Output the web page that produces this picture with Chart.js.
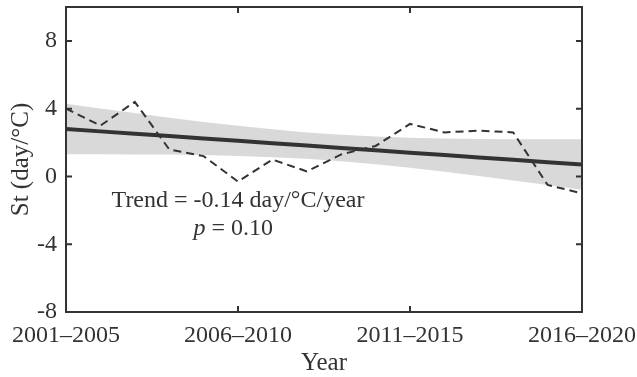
<!DOCTYPE html>
<html>
<head>
<meta charset="utf-8">
<script src="https://cdn.jsdelivr.net/npm/chart.js@4.4.1/dist/chart.umd.min.js"></script>
<style>
  html, body { margin: 0; padding: 0; background: #fff; }
  canvas { display: block; }
</style>
</head>
<body>
<canvas id="chart" width="637" height="377"></canvas>
<script>
// Five-year moving windows
const periods = ['2001–2005', '2002–2006', '2003–2007', '2004–2008', '2005–2009',
                 '2006–2010', '2007–2011', '2008–2012', '2009–2013', '2010–2014',
                 '2011–2015', '2012–2016', '2013–2017', '2014–2018', '2015–2019',
                 '2016–2020'];

// Temperature sensitivity St (day/°C) per window
const stValues = [4.0, 3.0, 4.4, 1.6, 1.2, -0.3, 1.0, 0.3, 1.3, 1.8,
                  3.1, 2.6, 2.7, 2.6, -0.5, -1.0];

// Fitted linear trend
const trendValues = [2.80, 2.66, 2.52, 2.38, 2.24, 2.10, 1.96, 1.82, 1.68, 1.54,
                     1.40, 1.26, 1.12, 0.98, 0.84, 0.70];

// Confidence band of the trend
const bandUpper = [4.29, 4.01, 3.74, 3.47, 3.22, 2.99, 2.78, 2.60, 2.46, 2.36,
                   2.29, 2.24, 2.21, 2.20, 2.19, 2.19];
const bandLower = [1.31, 1.31, 1.30, 1.29, 1.26, 1.21, 1.14, 1.04, 0.90, 0.72,
                   0.51, 0.28, 0.03, -0.24, -0.51, -0.79];

// Axis ticks
const xTickLabels = ['2001–2005', '2006–2010', '2011–2015', '2016–2020'];
const yTickValues = [-8, -4, 0, 4, 8];

const trendLabel = 'Trend = -0.14 day/°C/year';
const pValueLabel = ' = 0.10';

const INK = '#333333';
const SERIF = '"Liberation Serif", "Times New Roman", serif';

// Box frame with inward tick marks on all four sides, plus the trend note
const framePlugin = {
  id: 'frame',
  afterDatasetsDraw(chart) {
    const { ctx, chartArea: a, scales: { x, y } } = chart;
    ctx.save();
    ctx.strokeStyle = INK;
    ctx.lineWidth = 2;
    ctx.lineCap = 'butt';
    ctx.strokeRect(a.left, a.top, a.right - a.left, a.bottom - a.top);
    const tl = 6;
    ctx.beginPath();
    xTickLabels.forEach(lbl => {
      const px = x.getPixelForValue(periods.indexOf(lbl));
      ctx.moveTo(px, a.bottom); ctx.lineTo(px, a.bottom - tl);
      ctx.moveTo(px, a.top); ctx.lineTo(px, a.top + tl);
    });
    yTickValues.forEach(v => {
      const py = y.getPixelForValue(v);
      ctx.moveTo(a.left, py); ctx.lineTo(a.left + tl, py);
      ctx.moveTo(a.right, py); ctx.lineTo(a.right - tl, py);
    });
    ctx.stroke();

    // Trend annotation
    ctx.fillStyle = INK;
    ctx.textBaseline = 'alphabetic';
    ctx.font = '24px ' + SERIF;
    ctx.textAlign = 'center';
    ctx.fillText(trendLabel, x.getPixelForValue(5), y.getPixelForValue(-1.8));
    const italic = 'italic 24px ' + SERIF;
    const upright = '24px ' + SERIF;
    ctx.font = italic;
    const wp = ctx.measureText('p').width;
    ctx.font = upright;
    const wr = ctx.measureText(pValueLabel).width;
    const cx = x.getPixelForValue(4.86);
    const by = y.getPixelForValue(-3.45);
    const start = cx - (wp + wr) / 2;
    ctx.textAlign = 'left';
    ctx.font = italic;
    ctx.fillText('p', start, by);
    ctx.font = upright;
    ctx.fillText(pValueLabel, start + wp, by);
    ctx.restore();
  }
};

new Chart(document.getElementById('chart'), {
  type: 'line',
  data: {
    labels: periods,
    datasets: [
      {
        label: 'Trend',
        data: trendValues,
        borderColor: INK,
        borderWidth: 4,
        pointRadius: 0,
        fill: false,
        order: 0
      },
      {
        label: 'St',
        data: stValues,
        borderColor: INK,
        borderWidth: 2,
        borderDash: [8, 5],
        pointRadius: 0,
        fill: false,
        order: 1
      },
      {
        label: 'Upper',
        data: bandUpper,
        borderWidth: 0,
        borderColor: 'rgba(0,0,0,0)',
        backgroundColor: '#d9d9d9',
        pointRadius: 0,
        fill: '+1',
        order: 2
      },
      {
        label: 'Lower',
        data: bandLower,
        borderWidth: 0,
        borderColor: 'rgba(0,0,0,0)',
        pointRadius: 0,
        fill: false,
        order: 3
      }
    ]
  },
  options: {
    responsive: false,
    animation: false,
    devicePixelRatio: 1,
    layout: { padding: { top: 7, right: 55, left: 0, bottom: 0 } },
    plugins: {
      legend: { display: false },
      tooltip: { enabled: false }
    },
    scales: {
      x: {
        type: 'category',
        offset: false,
        grid: { display: false, drawTicks: false },
        border: { display: false },
        ticks: {
          autoSkip: false,
          maxRotation: 0,
          padding: 9,
          color: INK,
          font: { family: SERIF, size: 24 },
          callback(value) {
            const lbl = periods[value];
            return xTickLabels.includes(lbl) ? lbl : null;
          }
        },
        title: {
          display: true,
          text: 'Year',
          color: INK,
          font: { family: SERIF, size: 25, lineHeight: 1 },
          padding: { top: 0, bottom: 1 }
        },
        afterFit(scale) {
          scale.height = 65;
          scale.paddingLeft = 0;
          scale.paddingRight = 0;
        }
      },
      y: {
        type: 'linear',
        min: -8,
        max: 10,
        grid: { display: false, drawTicks: false },
        border: { display: false },
        afterBuildTicks(scale) {
          scale.ticks = yTickValues.map(v => ({ value: v }));
        },
        ticks: {
          padding: 9,
          color: INK,
          font: { family: SERIF, size: 24 },
          callback(value) { return String(value); }
        },
        title: {
          display: true,
          text: 'St (day/°C)',
          color: INK,
          font: { family: SERIF, size: 25, lineHeight: 1.2 },
          padding: { top: 6, bottom: 0 }
        },
        afterFit(scale) {
          scale.width = 66;
          scale.paddingTop = 0;
          scale.paddingBottom = 0;
        }
      }
    }
  },
  plugins: [framePlugin]
});
</script>
</body>
</html>
